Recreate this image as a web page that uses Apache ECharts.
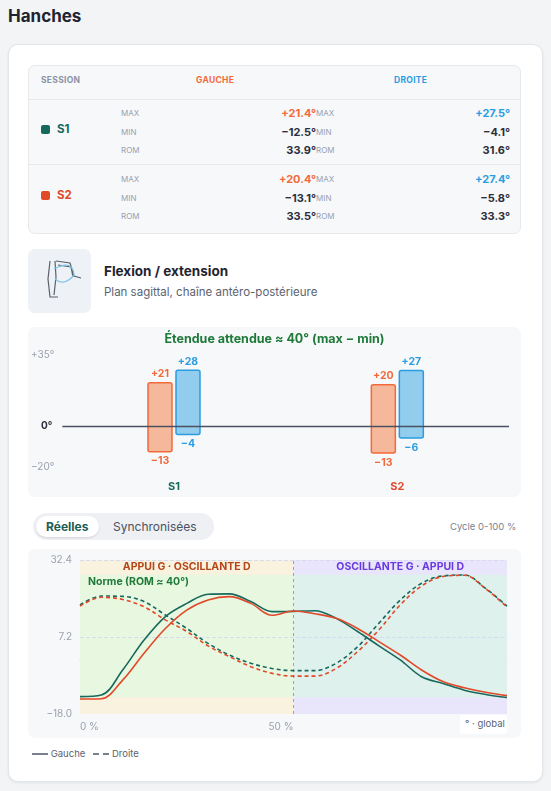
<!DOCTYPE html>
<html><head><meta charset="utf-8">
<script src="https://cdn.jsdelivr.net/npm/echarts@6/dist/echarts.min.js"></script>
<style>
*{box-sizing:border-box}
body{margin:0;width:551px;height:791px;background:#f3f4f6;font-family:Inter,"Noto Sans",sans-serif;color:#1f2430;position:relative;overflow:hidden}
.abs{position:absolute}
h1{position:absolute;left:8px;top:6px;margin:0;font-size:17px;font-weight:700}
.card{left:8px;top:44px;width:535px;height:738px;background:#fff;border:1px solid #e3e6ea;border-radius:10px;box-shadow:0 1px 3px rgba(0,0,0,.08)}
.tbl{left:28px;top:65px;width:493px;height:169px;background:#f7f8fa;border:1px solid #e6e8ec;border-radius:7px}
.hd{font-size:8.5px;font-weight:700;letter-spacing:.3px}
.lab{font-size:8px;color:#98a0b0}
.val{font-size:11px;font-weight:700;text-align:right}
.sq{width:9px;height:9px;border-radius:2px}
</style></head><body>
<h1>Hanches</h1>
<div class="abs card"></div>
<div class="abs tbl"></div>
<div class="abs hd" style="left:41px;top:75px;color:#8a93a6">SESSION</div>
<div class="abs hd" style="left:196px;top:75px;color:#f26a3a">GAUCHE</div>
<div class="abs hd" style="left:394px;top:75px;color:#2a9de0">DROITE</div>
<div class="abs" style="left:28px;top:99px;width:493px;border-top:1px solid #e6e8ec"></div>
<div class="abs" style="left:28px;top:164px;width:493px;border-top:1px solid #e6e8ec"></div>
<div id="rows"></div>
<div class="abs" style="left:28px;top:249px;width:63px;height:64px;background:#eef1f5;border-radius:7px">
<svg width="63" height="64" viewBox="0 0 63 64"><path d="M22 12 L20 30 L22 48 L30 48 M27 12 L28 28 L26 46 M28 12 L42 14 L46 27 L53 29 M30 16 L43 18 L45 28" stroke="#5a606c" stroke-width="1.2" fill="none"/><path d="M26 20 Q45 10 46 26 Q36 38 27 30" stroke="#7cc7e8" stroke-width="1.2" fill="none"/></svg></div>
<div class="abs" style="left:104px;top:263px;font-size:13.5px;font-weight:700">Flexion / extension</div>
<div class="abs" style="left:104px;top:285px;font-size:11.5px;color:#5c6370">Plan sagittal, chaîne antéro-postérieure</div>
<div class="abs" style="left:28px;top:327px;width:493px;height:170px;background:#f7f8fa;border-radius:7px"></div>
<div id="bar" class="abs" style="left:28px;top:327px;width:493px;height:170px"></div>
<div class="abs" style="left:33px;top:513px;width:181px;height:27px;background:#eef0f4;border-radius:14px"></div>
<div class="abs" style="left:36px;top:516px;width:63px;height:21px;background:#fff;border-radius:11px;box-shadow:0 1px 2px rgba(0,0,0,.12)"></div>
<div class="abs" style="left:46px;top:519px;font-size:12px;font-weight:700;color:#1d5c50">Réelles</div>
<div class="abs" style="left:113px;top:519px;font-size:12px;color:#4a5160">Synchronisées</div>
<div class="abs" style="left:450px;top:521px;font-size:9.5px;color:#7a8394">Cycle 0-100 %</div>
<div class="abs" style="left:28px;top:549px;width:493px;height:189px;background:#f7f8fa;border-radius:7px"></div>
<div id="line" class="abs" style="left:28px;top:549px;width:493px;height:189px"></div>
<div class="abs" style="left:460px;top:715px;width:47px;height:19px;background:#fff;border-radius:3px;font-size:9.5px;color:#5c6370;padding:3px 0 0 5px">° · global</div>
<div class="abs" style="left:32px;top:748px;font-size:9.5px;color:#5c6370"><span style="display:inline-block;width:16px;border-top:2px solid #7a8090;vertical-align:middle"></span> Gauche &nbsp;&nbsp;<span style="display:inline-block;width:16px;border-top:2px dashed #7a8090;vertical-align:middle"></span> Droite</div>
<script>
const sessions=['S1','S2'];
const sessionColors=['#17695e','#e0492a'];
const gMax=[21.4,20.4], gMin=[-12.5,-13.1], gRom=[33.9,33.5];
const dMax=[27.5,27.4], dMin=[-4.1,-5.8], dRom=[31.6,33.3];
const cycleX=[0,5,10,15,20,25,30,35,40,45,50,55,60,65,70,75,80,85,90,95,100];
const s1Gauche=[-12.3,-11.8,-3.6,6.2,13.9,18.2,21.2,21.3,18.8,15.5,15.6,15.8,13.3,9,4.3,-0.3,-5.8,-8,-10.2,-11.6,-12.6];
const s2Gauche=[-13.1,-13,-6.9,1.9,10,16,19.3,20.4,18.2,14.3,15.7,14.8,13.3,10,5.7,1.3,-3.6,-7.4,-9.4,-10.9,-12];
const s1Droite=[17.7,20.6,20.5,18.8,14.4,10,5.1,1.3,-1.4,-3.1,-3.8,-3.8,-1.4,4,11.7,19.3,24.8,27.2,27.5,23.1,17.3];
const s2Droite=[17.3,20.2,19.5,17.1,12.8,9,4.3,0.8,-2.5,-4.7,-5.6,-5.6,-3.1,2.4,9.5,17.7,23.9,27,27.4,23,17];
const yTicks=[-18,7.2,32.4];

const fmt=v=>(v>0?'+':'')+v.toFixed(1)+'°';
let h='';
sessions.forEach((s,i)=>{
 const t=[106,172][i];
 h+=`<div class="abs sq" style="left:41px;top:${t+19}px;background:${sessionColors[i]}"></div>
 <div class="abs" style="left:57px;top:${t+16}px;font-size:11.5px;font-weight:700;color:${sessionColors[i]}">${s}</div>`;
 const rows=[['MAX',fmt(gMax[i]),fmt(dMax[i]),true],['MIN',fmt(gMin[i]).replace('-','−'),fmt(dMin[i]).replace('-','−'),false],['ROM',gRom[i].toFixed(1)+'°',dRom[i].toFixed(1)+'°',false]];
 rows.forEach((r,k)=>{const y=t+k*18.5;
  h+=`<div class="abs lab" style="left:121px;top:${y+2}px">${r[0]}</div>
  <div class="abs val" style="left:200px;width:116px;top:${y}px;color:${r[3]?'#f26a3a':'#2a2f3a'}">${r[1]}</div>
  <div class="abs lab" style="left:316px;top:${y+2}px">${r[0]}</div>
  <div class="abs val" style="left:400px;width:110px;top:${y}px;color:${r[3]?'#2a9de0':'#2a2f3a'}">${r[2]}</div>`;});
});
document.getElementById('rows').innerHTML=h;

const F='Inter, Noto Sans, sans-serif';
const bar=echarts.init(document.getElementById('bar'));
const rangeSeries=(mx,mn,side,fill,stroke)=>({
 type:'custom',data:sessions.map((s,i)=>[i,mn[i],mx[i]]),encode:{x:0,y:[1,2]},z:3,
 renderItem:(params,api)=>{
  const lo=api.coord([api.value(0),api.value(1)]), hi=api.coord([api.value(0),api.value(2)]);
  const w=24, x=lo[0]+(side<0?-w-2:2);
  const st={fontFamily:F,fontWeight:'bold',fontSize:10.5,fill:stroke};
  return {type:'group',children:[
   {type:'rect',shape:{x,y:hi[1],width:w,height:lo[1]-hi[1],r:2},style:{fill,stroke,lineWidth:1.5}},
   {type:'text',style:Object.assign({text:'+'+Math.round(api.value(2)),x:x+w/2,y:hi[1]-3,align:'center',verticalAlign:'bottom'},st)},
   {type:'text',style:Object.assign({text:'−'+Math.round(Math.abs(api.value(1))),x:x+w/2,y:lo[1]+4,align:'center',verticalAlign:'top'},st)}
  ]};
 }});
bar.setOption({
 title:{text:'Étendue attendue ≈ 40° (max − min)',left:'center',top:1,textStyle:{color:'#1f7a3a',fontSize:12.5,fontWeight:'bold',fontFamily:F}},
 grid:{left:34,right:12,top:28,bottom:30},
 xAxis:{type:'category',data:sessions,axisLine:{show:false},axisTick:{show:false},
  axisLabel:{margin:14,fontWeight:'bold',fontSize:11,fontFamily:F,color:(v,i)=>sessionColors[i]}},
 yAxis:{type:'value',min:-20,max:35,interval:55,splitLine:{show:false},axisLine:{show:false},axisTick:{show:false},
  axisLabel:{color:'#9aa1ae',fontSize:10,fontFamily:F,formatter:v=>(v>0?'+':v<0?'−':'')+Math.abs(v)+'°'}},
 series:[
  {type:'line',data:[],markLine:{symbol:'none',silent:true,data:[{yAxis:0}],lineStyle:{color:'#4a5060',width:1.3,type:'solid'},
   label:{show:true,position:'start',distance:10,formatter:'0°',color:'#2a2f3a',fontWeight:'bold',fontSize:10,fontFamily:F}}},
  rangeSeries(gMax,gMin,-1,'#f5b89b','#f26a3a'),
  rangeSeries(dMax,dMin,1,'#92cdee','#2a9de0')
 ]});

const line=echarts.init(document.getElementById('line'));
const pts=a=>cycleX.map((x,i)=>[x,a[i]]);
const ls=(name,data,color,dash)=>({type:'line',name,data:pts(data),smooth:0.35,symbol:'none',lineStyle:{color,width:1.6,type:dash?[4,3]:'solid'},z:5});
line.setOption({
 grid:{left:52,right:14,top:11,bottom:24},
 xAxis:{type:'value',min:0,max:100,interval:50,axisLine:{lineStyle:{color:'#c9cde6'}},axisTick:{show:false},splitLine:{show:false},
  axisLabel:{color:'#9aa1ae',fontSize:10,fontFamily:F,margin:8,align:'right',alignMinLabel:'left',formatter:v=>v+' %'}},
 yAxis:{type:'value',min:-18,max:32.4,axisLine:{show:false},axisTick:{show:false},splitLine:{show:false},
  axisLabel:{customValues:yTicks,color:'#9aa1ae',fontSize:10,fontFamily:F,formatter:v=>v.toFixed(1).replace('-','−')}},
 series:[
  {type:'line',data:[],markArea:{silent:true,data:[
    [{xAxis:0,yAxis:-18,itemStyle:{color:'#f8f2df'}},{xAxis:50,yAxis:32.4}],
    [{xAxis:50,yAxis:-18,itemStyle:{color:'#e9e5fb'}},{xAxis:100,yAxis:32.4}]]}},
  {type:'line',data:[],markArea:{silent:true,data:[
    [{xAxis:0,yAxis:-12.5,itemStyle:{color:'#e8f7df'}},{xAxis:50,yAxis:27.6}],
    [{xAxis:50,yAxis:-12.5,itemStyle:{color:'#dff1ec'}},{xAxis:100,yAxis:27.6}]]},
   markLine:{symbol:'none',silent:true,label:{show:false},lineStyle:{color:'#d8dbef',type:'dashed',width:1},data:[{yAxis:32.4},{yAxis:7.2}]}},
  {type:'line',data:[],z:4,markLine:{symbol:'none',silent:true,label:{show:false},lineStyle:{color:'#a98ef0',type:[3,3],width:1},data:[{xAxis:50}]}},
  {type:'line',data:[],markArea:{silent:true,itemStyle:{color:'transparent'},data:[
    [{xAxis:0,yAxis:27.6,label:{show:true,position:'inside',color:'#b5461a',fontWeight:'bold',fontSize:10.5,fontFamily:F,formatter:'APPUI G · OSCILLANTE D'}},{xAxis:50,yAxis:32.4}],
    [{xAxis:50,yAxis:27.6,label:{show:true,position:'inside',color:'#6a3be0',fontWeight:'bold',fontSize:10.5,fontFamily:F,formatter:'OSCILLANTE G · APPUI D'}},{xAxis:100,yAxis:32.4}],
    [{xAxis:0,yAxis:23,label:{show:true,position:'insideLeft',offset:[3,0],color:'#1f7a3a',fontWeight:'bold',fontSize:10.5,fontFamily:F,formatter:'Norme (ROM ≈ 40°)'}},{xAxis:1,yAxis:27.6}]]}},
  ls('S1 Droite',s1Droite,'#17695e',true),
  ls('S2 Droite',s2Droite,'#e0492a',true),
  ls('S1 Gauche',s1Gauche,'#17695e',false),
  ls('S2 Gauche',s2Gauche,'#e0492a',false)
 ]});
</script></body></html>
